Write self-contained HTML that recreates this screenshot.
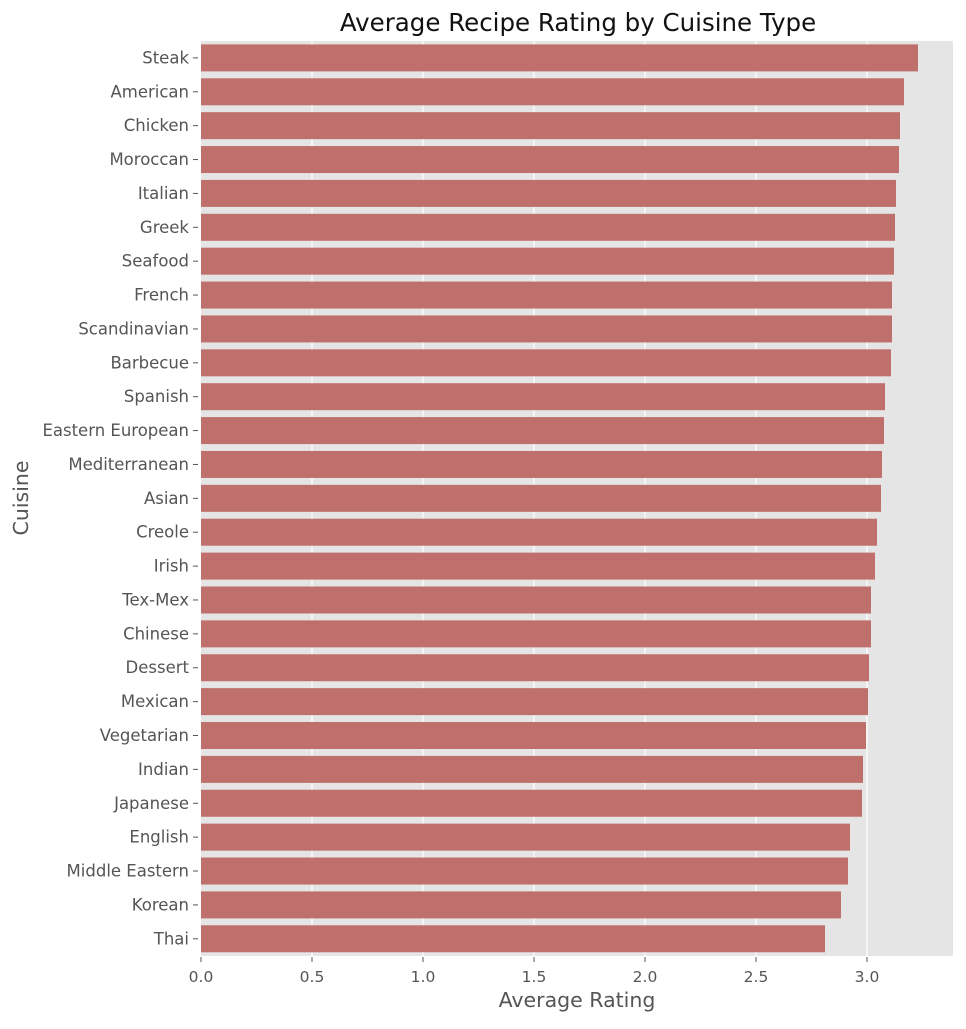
<!DOCTYPE html>
<html><head><meta charset="utf-8"><style>body{margin:0;background:#fff}</style></head><body>
<svg width="966" height="1024" xmlns="http://www.w3.org/2000/svg" font-family="DejaVu Sans, Liberation Sans, sans-serif">
<rect x="201" y="41" width="752" height="915" fill="#e5e5e5"/>
<g stroke="#fff" stroke-width="1.2">
<line x1="312" y1="41" x2="312" y2="956"/><line x1="423" y1="41" x2="423" y2="956"/><line x1="534" y1="41" x2="534" y2="956"/><line x1="645" y1="41" x2="645" y2="956"/><line x1="756" y1="41" x2="756" y2="956"/><line x1="867" y1="41" x2="867" y2="956"/>
</g>
<g id="bars" fill="#c0706c"></g>
<g id="ylab" font-size="16.5" fill="#555" text-anchor="end"></g>
<g stroke="#555" stroke-width="1">
<line x1="201" y1="957" x2="201" y2="962"/><line x1="312" y1="957" x2="312" y2="962"/><line x1="423" y1="957" x2="423" y2="962"/><line x1="534" y1="957" x2="534" y2="962"/><line x1="645" y1="957" x2="645" y2="962"/><line x1="756" y1="957" x2="756" y2="962"/><line x1="867" y1="957" x2="867" y2="962"/>
</g>
<g font-size="15.5" fill="#555" text-anchor="middle">
<text x="201" y="982">0.0</text><text x="312" y="982">0.5</text><text x="423" y="982">1.0</text><text x="534" y="982">1.5</text><text x="645" y="982">2.0</text><text x="756" y="982">2.5</text><text x="867" y="982">3.0</text>
</g>
<text x="577" y="1007" font-size="20.5" fill="#555" text-anchor="middle">Average Rating</text>
<text x="28" y="498" font-size="20.5" fill="#555" text-anchor="middle" transform="rotate(-90 28 498)">Cuisine</text>
<text x="578" y="31" font-size="24.5" fill="#111" text-anchor="middle">Average Recipe Rating by Cuisine Type</text>
<script>
var d=[["Steak",918],["American",904],["Chicken",900],["Moroccan",899],["Italian",896],["Greek",895],["Seafood",894],["French",892],["Scandinavian",892],["Barbecue",891],["Spanish",885],["Eastern European",884],["Mediterranean",882],["Asian",881],["Creole",877],["Irish",875],["Tex-Mex",871],["Chinese",871],["Dessert",869],["Mexican",868],["Vegetarian",866],["Indian",863],["Japanese",862],["English",850],["Middle Eastern",848],["Korean",841],["Thai",825]];
var ns="http://www.w3.org/2000/svg",b=document.getElementById("bars"),l=document.getElementById("ylab");
d.forEach(function(e,i){var c=57.9+i*33.88;
var r=document.createElementNS(ns,"rect");r.setAttribute("x",201);r.setAttribute("y",c-13.5);r.setAttribute("width",e[1]-201);r.setAttribute("height",27);b.appendChild(r);
var t=document.createElementNS(ns,"text");t.setAttribute("x",189);t.setAttribute("y",c+5.5);t.textContent=e[0];l.appendChild(t);
var k=document.createElementNS(ns,"line");k.setAttribute("x1",193);k.setAttribute("x2",198);k.setAttribute("y1",c);k.setAttribute("y2",c);k.setAttribute("stroke","#555");l.appendChild(k);});
</script>
</svg>
</body></html>
